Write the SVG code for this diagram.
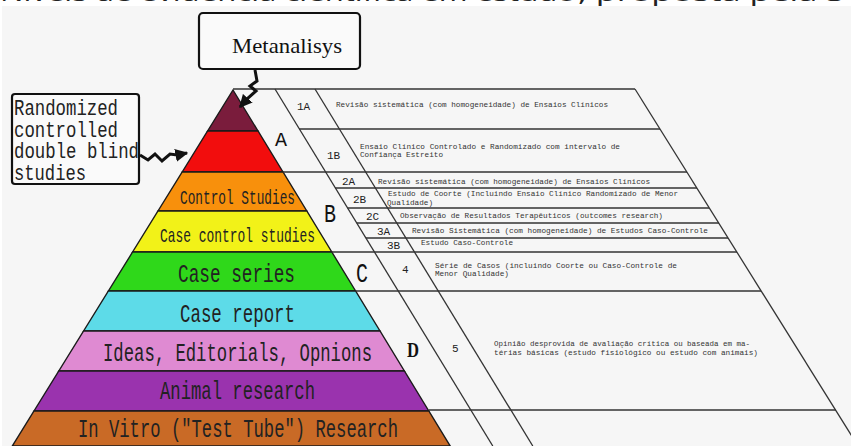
<svg xmlns="http://www.w3.org/2000/svg" width="851" height="446" viewBox="0 0 851 446">
<defs>
<style>
.bg{fill:#f6f6f6}
.band{stroke:#1a1a1a;stroke-width:1.4}
.lbl{font-family:"Liberation Mono","DejaVu Sans Mono",monospace;fill:#222}
.big{font-size:26px}
.mid{font-size:21px}
.box{fill:#fafafa;stroke:#111;stroke-width:2.2}
.tl{stroke:#333;stroke-width:1.3;fill:none}
.sm{font-family:"Liberation Mono","DejaVu Sans Mono",monospace;font-size:7.4px;fill:#333}
.rl{font-family:"Liberation Mono","DejaVu Sans Mono",monospace;font-size:11px;fill:#222}
.grp{font-family:"Liberation Mono","DejaVu Sans Mono",monospace;fill:#111}
.sq{stroke:#111;stroke-width:3;fill:none;stroke-linejoin:miter}
.top{font-family:"Open Sans","Liberation Sans",sans-serif;font-size:22px;fill:#222}
</style>
<marker id="ah" viewBox="0 0 10 10" refX="9" refY="5" markerUnits="userSpaceOnUse" markerWidth="13" markerHeight="13" orient="auto">
<path d="M0,0 L10,5 L0,10 z" fill="#111"/>
</marker>
</defs>
<rect x="0" y="0" width="851" height="446" fill="#ffffff"/>
<rect class="bg" x="2" y="6" width="849" height="440"/>
<text class="top" x="0" y="0.5" textLength="576" lengthAdjust="spacingAndGlyphs">Níveis de evidência científica em estudo</text>
<text class="top" x="578" y="0.5" textLength="267" lengthAdjust="spacingAndGlyphs">, proposta pela S</text>

<g id="pyramid">
<polygon class="band" fill="#7a1c3c" points="233,90 258,131 207.6,131"/>
<polygon class="band" fill="#f20d0d" points="207.6,131 258,131 283,172 182.2,172"/>
<polygon class="band" fill="#f8900c" points="182.2,172 283,172 306.8,211 158,211"/>
<polygon class="band" fill="#f2f218" points="158,211 306.8,211 331.8,252 132.6,252"/>
<polygon class="band" fill="#2fd81a" points="132.6,252 331.8,252 355.6,291 108.4,291"/>
<polygon class="band" fill="#5ddbe8" points="108.4,291 355.6,291 380,331 83.6,331"/>
<polygon class="band" fill="#df8ad2" points="83.6,331 380,331 404.4,371 58.8,371"/>
<polygon class="band" fill="#9a33ae" points="58.8,371 404.4,371 428.8,411 34,411"/>
<polygon class="band" fill="#c96a26" points="34,411 428.8,411 450.2,446 12.3,446"/>
</g>
<g id="labels">
<text class="lbl mid" x="180" y="204" textLength="115" lengthAdjust="spacingAndGlyphs">Control Studies</text>
<text class="lbl mid" x="160" y="242" textLength="155" lengthAdjust="spacingAndGlyphs">Case control studies</text>
<text class="lbl big" x="178" y="282" textLength="117" lengthAdjust="spacingAndGlyphs">Case series</text>
<text class="lbl big" x="180" y="322" textLength="115" lengthAdjust="spacingAndGlyphs">Case report</text>
<text class="lbl big" x="103" y="361" textLength="269" lengthAdjust="spacingAndGlyphs">Ideas, Editorials, Opnions</text>
<text class="lbl big" x="160" y="399" textLength="155" lengthAdjust="spacingAndGlyphs">Animal research</text>
<text class="lbl big" x="78" y="437" textLength="320" lengthAdjust="spacingAndGlyphs">In Vitro ("Test Tube") Research</text>
</g>

<g id="table-lines">
<line class="tl" x1="233" y1="89" x2="635" y2="89"/>
<line class="tl" x1="299" y1="129" x2="660" y2="129"/>
<line class="tl" x1="283" y1="172" x2="687" y2="172"/>
<line class="tl" x1="335" y1="188" x2="697" y2="188"/>
<line class="tl" x1="347.6" y1="208" x2="709" y2="208"/>
<line class="tl" x1="356.7" y1="223" x2="719" y2="223"/>
<line class="tl" x1="365.9" y1="238" x2="728" y2="238"/>
<line class="tl" x1="331.8" y1="252" x2="737" y2="252"/>
<line class="tl" x1="355.6" y1="291" x2="761" y2="291"/>
<line class="tl" x1="428.8" y1="410" x2="836" y2="410"/>
<line class="tl" x1="275" y1="89" x2="492.8" y2="446"/>
<line class="tl" x1="315" y1="89" x2="532.8" y2="446"/>
<line class="tl" x1="635" y1="89" x2="858" y2="446"/>
</g>

<g id="groups">
<text class="grp" x="275" y="146" font-size="21" textLength="12" lengthAdjust="spacingAndGlyphs">A</text>
<text class="grp" x="324" y="222" font-size="26" textLength="12" lengthAdjust="spacingAndGlyphs">B</text>
<text class="grp" x="356" y="282" font-size="28" textLength="12" lengthAdjust="spacingAndGlyphs">C</text>
<text x="407" y="357" font-family="'Liberation Serif','DejaVu Serif',serif" font-weight="bold" font-size="21" fill="#111" textLength="12" lengthAdjust="spacingAndGlyphs">D</text>
</g>

<g id="row-labels">
<text class="rl" x="297" y="110">1A</text>
<text class="rl" x="327" y="159">1B</text>
<text class="rl" x="342" y="185">2A</text>
<text class="rl" x="353" y="203">2B</text>
<text class="rl" x="366" y="220">2C</text>
<text class="rl" x="377" y="235">3A</text>
<text class="rl" x="387" y="249">3B</text>
<text class="rl" x="402" y="273">4</text>
<text class="rl" x="452" y="352">5</text>
</g>

<g id="descriptions">
<text class="sm" x="336" y="107" textLength="272" lengthAdjust="spacingAndGlyphs">Revisão sistemática (com homogeneidade) de Ensaios Clínicos</text>
<text class="sm" x="360" y="149" textLength="260" lengthAdjust="spacingAndGlyphs">Ensaio Clínico Controlado e Randomizado com intervalo de</text>
<text class="sm" x="360" y="157" textLength="83" lengthAdjust="spacingAndGlyphs">Confiança Estreito</text>
<text class="sm" x="378" y="184" textLength="272" lengthAdjust="spacingAndGlyphs">Revisão sistemática (com homogeneidade) de Ensaios Clínicos</text>
<text class="sm" x="388" y="196" textLength="290" lengthAdjust="spacingAndGlyphs">Estudo de Coorte (Incluindo Ensaio Clínico Randomizado de Menor</text>
<text class="sm" x="387" y="205" textLength="46" lengthAdjust="spacingAndGlyphs">Qualidade)</text>
<text class="sm" x="400" y="218" textLength="263" lengthAdjust="spacingAndGlyphs">Observação de Resultados Terapêuticos (outcomes research)</text>
<text class="sm" x="412" y="233" textLength="296" lengthAdjust="spacingAndGlyphs">Revisão Sistemática (com homogeneidade) de Estudos Caso-Controle</text>
<text class="sm" x="421" y="245" textLength="92" lengthAdjust="spacingAndGlyphs">Estudo Caso-Controle</text>
<text class="sm" x="435" y="268" textLength="242" lengthAdjust="spacingAndGlyphs">Série de Casos (incluindo Coorte ou Caso-Controle de</text>
<text class="sm" x="435" y="276" textLength="74" lengthAdjust="spacingAndGlyphs">Menor Qualidade)</text>
<text class="sm" x="494" y="346" textLength="256" lengthAdjust="spacingAndGlyphs">Opinião desprovida de avaliação crítica ou baseada em ma-</text>
<text class="sm" x="494" y="355" textLength="264" lengthAdjust="spacingAndGlyphs">térias básicas (estudo fisiológico ou estudo com animais)</text>
</g>

<g id="metanalisys">
<rect class="box" x="199" y="13" width="161" height="56" rx="4"/>
<text x="232" y="53" font-family="'Liberation Serif','DejaVu Serif',serif" font-size="22" fill="#111" textLength="110" lengthAdjust="spacingAndGlyphs">Metanalisys</text>
</g>

<g id="randomized">
<rect class="box" x="12" y="94" width="127" height="90" rx="3"/>
<text class="lbl" font-size="22" x="14" y="115" textLength="104" lengthAdjust="spacingAndGlyphs" fill="#111">Randomized</text>
<text class="lbl" font-size="22" x="14" y="137" textLength="104" lengthAdjust="spacingAndGlyphs" fill="#111">controlled</text>
<text class="lbl" font-size="22" x="14" y="158" textLength="125" lengthAdjust="spacingAndGlyphs" fill="#111">double blind</text>
<text class="lbl" font-size="22" x="14" y="180" textLength="72" lengthAdjust="spacingAndGlyphs" fill="#111">studies</text>
</g>

<g id="connectors">
<path class="sq" d="M255,70 L257,81 L250,86 L256,91 L248,98 L240,107" marker-end="url(#ah)"/>
<path class="sq" d="M140,155 L148,160 L155,154 L162,161 L170,154 L177,155 L187,153" marker-end="url(#ah)"/>
</g>
</svg>
